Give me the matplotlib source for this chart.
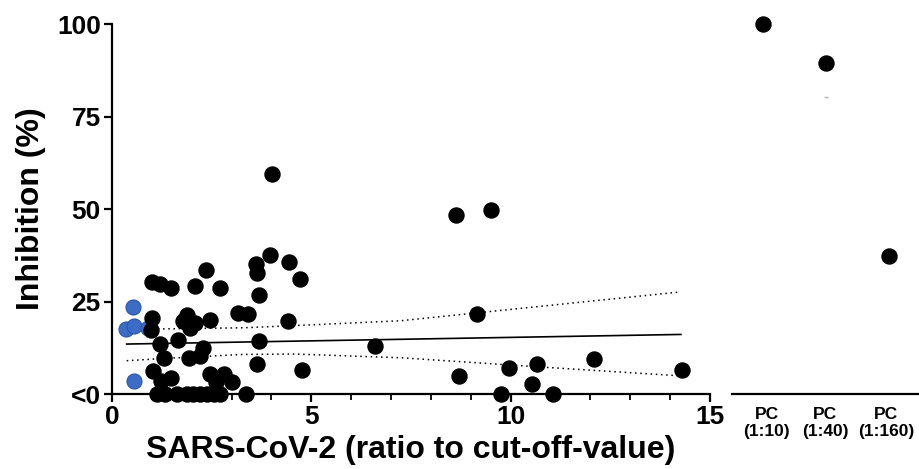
import matplotlib
matplotlib.use('Agg')
import matplotlib.pyplot as plt

plt.rcParams['font.family'] = ['Liberation Sans', 'DejaVu Sans']
plt.rcParams['font.weight'] = 'bold'

# Samples (ratio to cut-off-value vs. inhibition in %)
black_x = [4.01, 3.97, 4.43, 3.62, 3.65, 4.72, 2.35, 1.00, 1.21, 1.47,
           2.09, 2.70, 3.70, 1.00, 1.87, 1.79, 2.08, 1.96, 2.46, 3.17,
           3.42, 4.42, 0.97, 1.66, 1.20, 2.29, 2.21, 1.94, 1.30, 3.69,
           3.63, 4.76, 1.02, 1.24, 1.47, 2.46, 2.80, 3.00, 2.60, 3.35,
           1.12, 1.33, 1.64, 1.89, 2.04, 2.21, 2.38, 2.55, 2.70,
           8.62, 9.52, 9.15, 6.61, 8.70, 9.96, 10.67, 10.54, 9.77, 11.07,
           12.09, 14.29]
black_y = [59.5, 37.7, 35.7, 35.2, 32.7, 31.2, 33.6, 30.2, 29.6, 28.7,
           29.3, 28.6, 26.7, 20.6, 21.3, 19.7, 19.1, 17.8, 20.0, 21.8,
           21.6, 19.6, 17.2, 14.7, 13.4, 12.5, 10.3, 9.6, 9.6, 14.2,
           8.1, 6.5, 6.1, 3.4, 4.2, 5.3, 5.3, 3.3, 3.3, 0.0,
           0.0, 0.0, 0.0, 0.0, 0.0, 0.0, 0.0, 0.0, 0.0,
           48.3, 49.8, 21.6, 13.0, 4.9, 6.9, 8.0, 2.8, 0.0, 0.0,
           9.4, 6.4]

blue_x = [0.54, 0.34, 0.56, 0.90, 0.56]
blue_y = [23.4, 17.6, 18.5, 17.8, 3.4]

# Linear fit and 95% band
fit_x = [0.37, 14.27]
fit_y = [13.5, 16.1]
band_x = [0.37, 1.3, 3.3, 4.6, 7.24, 10.75, 14.27]
band_upper = [18.0, 17.6, 17.9, 18.5, 19.8, 23.7, 27.6]
band_lower = [9.0, 9.6, 10.7, 10.8, 9.8, 7.3, 4.9]

# Positive controls
pc_labels = ['PC\n(1:10)', 'PC\n(1:40)', 'PC\n(1:160)']
pc_values = [100.0, 89.4, 37.4]
pc_mark = 80.3  # faint grey dash above PC (1:40)

fig = plt.figure(figsize=(9.2, 4.69), dpi=100)
ax = fig.add_axes([0.1217, 0.1599, 0.65, 0.7889])
ax2 = fig.add_axes([0.7957, 0.1599, 0.2043, 0.7889])

# Main scatter
ax.scatter(blue_x, blue_y, s=117, color='#3d6cc6', edgecolors='#2b55a8',
           linewidths=0.8, zorder=3, clip_on=False)
ax.scatter(black_x, black_y, s=117, color='black', zorder=4, clip_on=False)

ax.plot(fit_x, fit_y, color='black', lw=1.2, zorder=2)
ax.plot(band_x, band_upper, color='black', lw=1.1, ls=(0, (1, 2.4)), zorder=2)
ax.plot(band_x, band_lower, color='black', lw=1.1, ls=(0, (1, 2.4)), zorder=2)

ax.set_xlim(0, 15)
ax.set_ylim(0, 100)
ax.set_xticks([0, 5, 10, 15])
ax.set_xticks(range(16), minor=True)
ax.set_yticks([0, 25, 50, 75, 100])
ax.set_yticklabels(['<0', '25', '50', '75', '100'])

for side in ('top', 'right'):
    ax.spines[side].set_visible(False)
for side in ('left', 'bottom'):
    ax.spines[side].set_linewidth(1.6)

ax.tick_params(axis='both', which='major', direction='out', length=6,
               width=1.6, labelsize=19, pad=2)
ax.tick_params(axis='x', which='minor', direction='out', length=4, width=1.3)
ax.tick_params(axis='y', which='minor', left=False)

ax.set_xlabel('SARS-CoV-2 (ratio to cut-off-value)', fontsize=23,
              fontweight='bold', labelpad=4)
ax.set_ylabel('Inhibition (%)', fontsize=23, fontweight='bold', labelpad=8)

# Positive control panel
pc_pos = list(range(len(pc_values)))
ax2.scatter(pc_pos, pc_values, s=117, color='black', zorder=4, clip_on=False)
ax2.plot([1], [pc_mark], marker='_', ms=3, color='#b0b0b0')
ax2.set_xlim(-0.486, 2.49)
ax2.set_ylim(0, 100)
ax2.set_yticks([])
ax2.set_xticks([0.06, 0.99, 1.95])
ax2.set_xticklabels(pc_labels, fontsize=12.5, fontweight='bold')
ax2.tick_params(axis='x', length=0, pad=9)
for side in ('top', 'right', 'left'):
    ax2.spines[side].set_visible(False)
ax2.spines['bottom'].set_linewidth(1.6)

plt.savefig('out.png', dpi=100)
